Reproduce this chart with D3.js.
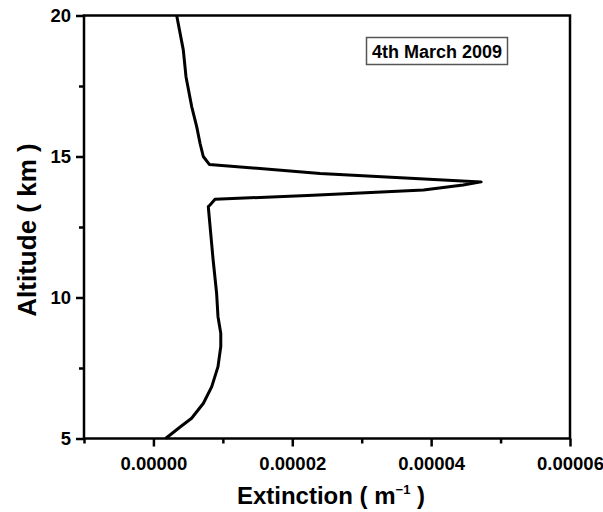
<!DOCTYPE html>
<html>
<head>
<meta charset="utf-8">
<script src="https://cdn.jsdelivr.net/npm/d3@7"></script>
<style>
  body { margin: 0; background: #fff; }
  svg text { font-family: "Liberation Sans", Arial, sans-serif; font-weight: bold; fill: #000; }
</style>
</head>
<body>
<svg id="chart" width="603" height="512"></svg>
<script>
// Extinction profile, 4th March 2009 (altitude in km, extinction in m^-1)
const altitude = [20.0, 18.78, 17.83, 16.77, 16.06, 15.47, 15.0, 14.72, 14.40, 14.10,
                  13.99, 13.81, 13.63, 13.48, 13.28, 13.22, 11.33, 10.15, 9.32, 8.73,
                  8.26, 7.55, 6.84, 6.25, 5.72, 5.40, 5.0];
const extinction = [3.35e-6, 4.3e-6, 4.69e-6, 5.51e-6, 6.23e-6, 6.71e-6, 7.18e-6, 8.05e-6, 2.4e-5, 4.72e-5,
                    4.46e-5, 3.89e-5, 2.30e-5, 8.87e-6, 8.15e-6, 7.9e-6, 8.6e-6, 9.1e-6, 9.3e-6, 9.7e-6,
                    9.7e-6, 9.3e-6, 8.4e-6, 7.2e-6, 5.5e-6, 3.8e-6, 1.75e-6];
const xTicks = [0, 0.00002, 0.00004, 0.00006];
const xMinorTicks = [-0.00001, 0.00001, 0.00003, 0.00005];
const yTicks = [5, 10, 15, 20];
const yMinorTicks = [7.5, 12.5, 17.5];
const legendText = "4th March 2009";

(function () {
  const svg = d3.select("#chart");
  const m = { left: 84, right: 570, top: 15.5, bottom: 438.5 };

  const x = d3.scaleLinear().domain([-0.00001, 0.00006]).range([m.left, m.right]);
  const y = d3.scaleLinear().domain([5, 20]).range([m.bottom, m.top]);

  // frame
  svg.append("rect")
    .attr("x", m.left).attr("y", m.top)
    .attr("width", m.right - m.left).attr("height", m.bottom - m.top)
    .attr("fill", "none").attr("stroke", "#000").attr("stroke-width", 2.5);

  // bottom axis
  svg.append("g").attr("transform", `translate(0,${m.bottom})`)
    .call(d3.axisBottom(x).tickValues(xTicks).tickFormat(d3.format(".5f")).tickSize(8).tickPadding(10));
  svg.append("g").attr("transform", `translate(0,${m.bottom})`)
    .call(d3.axisBottom(x).tickValues(xMinorTicks).tickFormat("").tickSize(5));

  // left axis
  svg.append("g").attr("transform", `translate(${m.left},0)`)
    .call(d3.axisLeft(y).tickValues(yTicks).tickFormat(d3.format("d")).tickSize(8).tickPadding(5));
  svg.append("g").attr("transform", `translate(${m.left},0)`)
    .call(d3.axisLeft(y).tickValues(yMinorTicks).tickFormat("").tickSize(5));

  svg.selectAll(".domain").remove();
  svg.selectAll(".tick line").attr("stroke", "#000").attr("stroke-width", 2.5);
  svg.selectAll(".tick text").style("font-size", "18.5px").style("font-family", "'Liberation Sans', Arial, sans-serif").style("font-weight", "bold");

  // profile line
  const pts = altitude.map((a, i) => [extinction[i], a]);
  svg.append("path")
    .datum(pts)
    .attr("fill", "none")
    .attr("stroke", "#000")
    .attr("stroke-width", 3)
    .attr("stroke-linejoin", "round")
    .attr("d", d3.line().x(d => x(d[0])).y(d => y(d[1])));

  // axis titles
  svg.append("text")
    .attr("x", 331).attr("y", 504)
    .attr("text-anchor", "middle")
    .style("font-size", "24px")
    .html('Extinction ( m<tspan dy="-10" font-size="13">\u22121</tspan><tspan dy="10"> )</tspan>');

  svg.append("text")
    .attr("transform", `translate(36,230) rotate(-90)`)
    .attr("text-anchor", "middle")
    .style("font-size", "26px")
    .text("Altitude ( km )");

  // legend box
  const lg = svg.append("g");
  lg.append("rect")
    .attr("x", 366.5).attr("y", 37.5).attr("width", 141).attr("height", 27)
    .attr("fill", "#fff").attr("stroke", "#555").attr("stroke-width", 1.5);
  lg.append("text")
    .attr("x", 437).attr("y", 57.5)
    .attr("text-anchor", "middle")
    .style("font-size", "18px")
    .text(legendText);
})();
</script>
</body>
</html>
